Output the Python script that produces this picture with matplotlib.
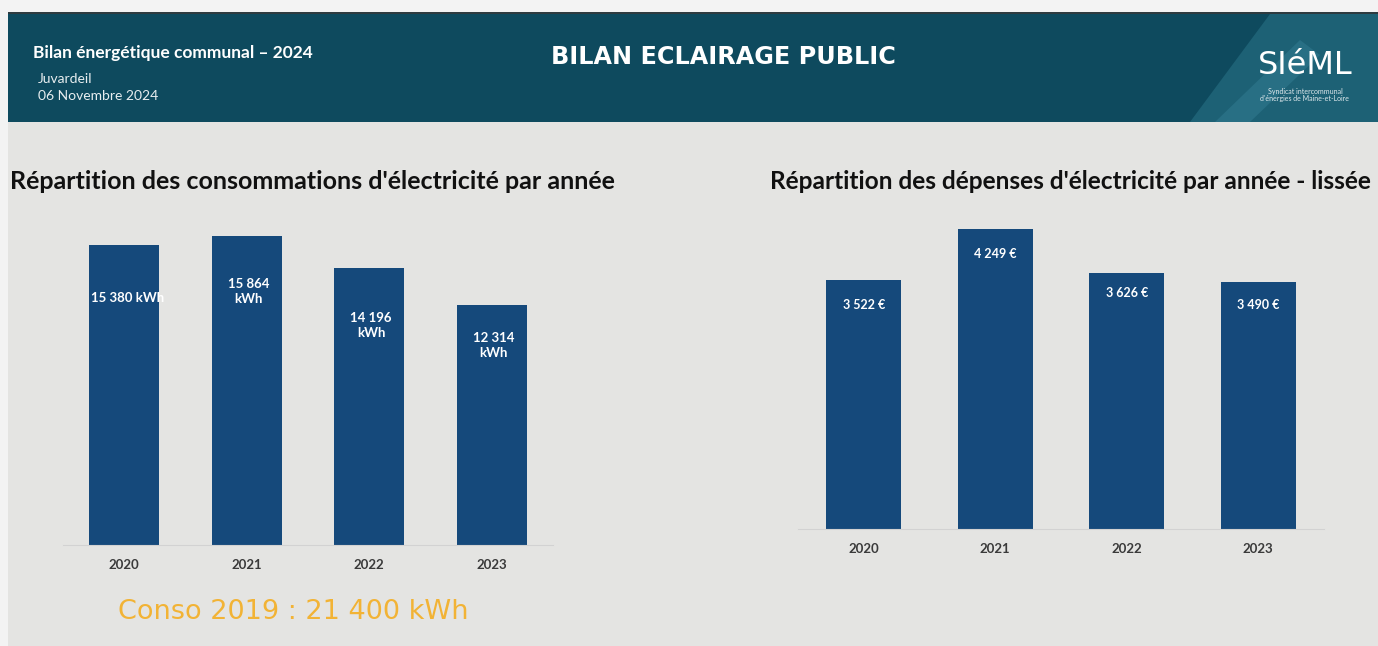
import matplotlib.pyplot as plt
from matplotlib.patches import Polygon

# data
years = ["2020", "2021", "2022", "2023"]
conso_kwh = [15380, 15864, 14196, 12314]
conso_labels = ["15 380 kWh", "15 864\nkWh", "14 196\nkWh", "12 314\nkWh"]
depenses_eur = [3522, 4249, 3626, 3490]
depenses_labels = ["3 522 €", "4 249 €", "3 626 €", "3 490 €"]

W, H = 1378, 646
BAR = "#15497b"
PANEL = "#e4e4e2"
HEAD = "#0e4a5e"


def fx(x):
    return x / W


def fy(y):
    return 1 - y / H


def add_ax(fig, left, right, bottom, top):
    return fig.add_axes([fx(left), fy(bottom), fx(right) - fx(left), fy(top) - fy(bottom)])


def add_poly(fig, pts, color):
    fig.patches.append(Polygon([(fx(a), fy(b)) for a, b in pts], closed=True, transform=fig.transFigure,
                               facecolor=color, edgecolor="none", zorder=-5))


fig = plt.figure(figsize=(W / 100, H / 100), dpi=100)
fig.patch.set_facecolor("#f3f3f3")

# background blocks
add_poly(fig, [(8, 122), (1378, 122), (1378, 646), (8, 646)], PANEL)
add_poly(fig, [(8, 12), (1378, 12), (1378, 122), (8, 122)], HEAD)
add_poly(fig, [(8, 12), (1378, 12), (1378, 14), (8, 14)], "#2e3b40")
# lighter logo area with diagonal streaks
add_poly(fig, [(1190, 122), (1270, 14), (1378, 14), (1378, 122)], "#1d6175")
add_poly(fig, [(1215, 122), (1300, 40), (1320, 55), (1250, 122)], "#286f84")

# header texts
fig.text(fx(33), fy(53), "Bilan énergétique communal – 2024", color="white", fontsize=12.5,
         fontweight="bold", family="Lato", va="center")
fig.text(fx(38), fy(79), "Juvardeil", color="#e8eef0", fontsize=10, family="Lato", va="center")
fig.text(fx(38), fy(96), "06 Novembre 2024", color="#e8eef0", fontsize=10, family="Lato", va="center")
fig.text(fx(723), fy(57), "BILAN ECLAIRAGE PUBLIC", color="white", fontsize=17.2,
         fontweight="bold", family="DejaVu Sans", ha="center", va="center")
fig.text(fx(1305), fy(65), "SIéML", color="white", fontsize=23, family="DejaVu Sans", ha="center", va="center")
fig.text(fx(1305), fy(95), "Syndicat intercommunal\nd'énergies de Maine-et-Loire", color="#dde8ec",
         fontsize=5, family="Lato", ha="center", va="center", linespacing=1.0)

# chart titles
fig.text(fx(10), fy(182), "Répartition des consommations d'électricité par année", color="#111111",
         fontsize=18, fontweight="bold", family="Lato", va="center")
fig.text(fx(770), fy(182), "Répartition des dépenses d'électricité par année - lissée", color="#111111",
         fontsize=17.6, fontweight="bold", family="Lato", va="center")

# left chart: consommations, 51.27 kWh per pixel
ax1 = add_ax(fig, 63, 553, 545, 200)
x = range(len(years))
ax1.bar(x, conso_kwh, width=0.57, color=BAR)
ax1.set_xlim(-0.5, 3.5)
ax1.set_ylim(0, 345 * 51.27)
offsets1 = [53, 56, 57, 41]
for i, v in enumerate(conso_kwh):
    ax1.annotate(conso_labels[i], (i, v), xytext=(2 if i else 3, -offsets1[i]), textcoords="offset pixels",
                 ha="center", va="center", color="white", fontsize=9.5, fontweight="bold",
                 family="Lato", linespacing=1.3)

# right chart: depenses, 14.15 EUR per pixel
ax2 = add_ax(fig, 798, 1324, 529, 200)
ax2.bar(x, depenses_eur, width=0.57, color=BAR)
ax2.set_xlim(-0.5, 3.5)
ax2.set_ylim(0, 329 * 14.15)
offsets2 = [25, 25, 20, 23]
for i, v in enumerate(depenses_eur):
    ax2.annotate(depenses_labels[i], (i, v), xytext=(0, -offsets2[i]), textcoords="offset pixels",
                 ha="center", va="center", color="white", fontsize=9, fontweight="bold", family="Lato")

for ax in (ax1, ax2):
    ax.set_facecolor("none")
    for s in ("top", "left", "right"):
        ax.spines[s].set_visible(False)
    ax.spines["bottom"].set_color("#d2d2d2")
    ax.set_yticks([])
    ax.set_xticks(list(x))
    ax.set_xticklabels(years, fontsize=9.5, fontweight="bold", color="#3a3a3a", family="Lato")
    ax.tick_params(axis="x", length=0, pad=10)

fig.text(fx(118), fy(612), "Conso 2019 : 21 400 kWh", color="#f2b335", fontsize=19.5,
         family="DejaVu Sans", va="center")

fig.savefig("out.png", dpi=100, facecolor=fig.get_facecolor())
